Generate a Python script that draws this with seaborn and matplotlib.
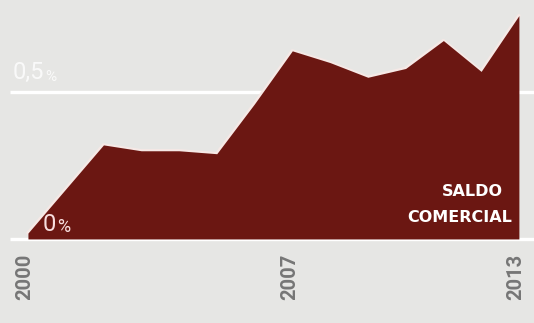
import matplotlib
matplotlib.use("Agg")
import matplotlib.pyplot as plt
import seaborn as sns
import pandas as pd

# Trade balance (% of GDP), 2000-2013
years = [2000, 2001, 2002, 2003, 2004, 2005, 2006, 2007, 2008, 2009, 2010, 2011, 2012, 2013]
saldo = [0.02, 0.17, 0.32, 0.30, 0.30, 0.29, 0.46, 0.64, 0.60, 0.55, 0.58, 0.675, 0.57, 0.76]
tick_years = [2000, 2007, 2013]
tick_labels = ["2000", "2007", "2013"]
grid_values = [0.0, 0.5]

BG = "#e6e6e4"
AREA = "#6b1712"
TICK = "#767676"

sns.set_theme(style="white", rc={"axes.facecolor": BG, "figure.facecolor": BG})
plt.rcParams["font.family"] = ["DejaVu Sans"]

df = pd.DataFrame({"year": years, "saldo": saldo})

fig = plt.figure(figsize=(5.34, 3.23), dpi=100)
ax = fig.add_axes([0, 0, 1, 1])
ax.set_xlim(1999.26, 2013.40)
ax.set_ylim(-0.286, 0.813)
ax.axis("off")

# white reference lines
for g in grid_values:
    ax.plot([1999.52, 2013.40], [g, g], color="white", lw=2.4, zorder=1,
            solid_capstyle="butt")

# thin pale outline under the filled area
sns.lineplot(data=df, x="year", y="saldo", color="#f6e9e6", lw=2.4, ax=ax, zorder=2)
ax.fill_between(df["year"], 0, df["saldo"], color=AREA, lw=0, zorder=3)


def value_label(x, y, num, color, alpha, pct_size):
    t = ax.text(x, y, num, color=color, alpha=alpha, fontsize=17,
                family="Roboto", ha="left", va="baseline", zorder=4)
    ax.annotate("%", xy=(1, 0), xycoords=t, xytext=(0.8, 0),
                textcoords="offset points", color=color, alpha=alpha,
                fontsize=pct_size, family="Roboto", ha="left", va="bottom",
                zorder=4)


value_label(1999.60, 0.544, "0,5", "white", 0.8, 11)
value_label(2000.40, 0.026, "0", "#f8dede", 1.0, 13)

# series name
ax.text(2012.57, 0.160, "SALDO", color="white", fontsize=11.5, fontweight="bold",
        family="DejaVu Sans", ha="right", va="center", zorder=4)
ax.text(2012.82, 0.072, "COMERCIAL", color="white", fontsize=11.5, fontweight="bold",
        family="DejaVu Sans", ha="right", va="center", zorder=4)

# year labels
for yr, lab in zip(tick_years, tick_labels):
    ax.text(yr - 0.08, -0.13, lab, color=TICK, fontsize=14.5, fontweight="bold",
            family="Roboto", rotation=90, ha="center", va="center", zorder=4)

fig.savefig("out.png", dpi=100, facecolor=BG)
